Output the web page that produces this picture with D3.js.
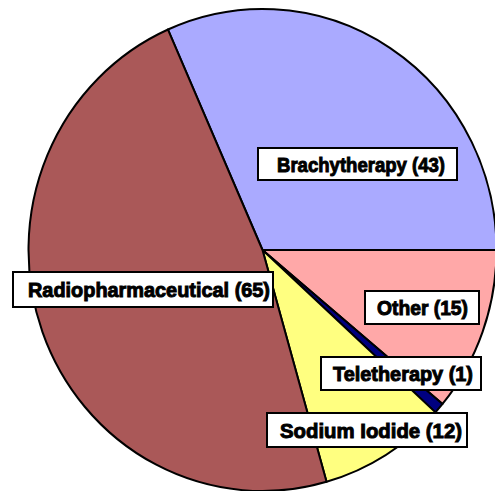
<!DOCTYPE html>
<html>
<head>
<meta charset="utf-8">
<script src="https://cdn.jsdelivr.net/npm/d3@7"></script>
<style>
  html, body { margin: 0; padding: 0; background: #fff; overflow: hidden; }
  svg { display: block; }
  .lbl text { font-family: "Liberation Sans", Arial, sans-serif; font-weight: bold; font-size: 21px; fill: #000; stroke: #000; stroke-width: 1px; }
</style>
</head>
<body>
<svg width="495" height="491"></svg>
<script>
// data
const categories = ["Brachytherapy", "Other", "Teletherapy", "Sodium Iodide", "Radiopharmaceutical"];
const counts = [43, 15, 1, 12, 65];
const colors = ["#aaaaff", "#ffa8a8", "#000080", "#ffff80", "#aa5858"];

// label boxes, placed by hand like in the original
const labelBoxes = [
  {x: 258, y: 148, w: 199, h: 32, tx: 277, tw: 168},
  {x: 365, y: 291, w: 114, h: 33, tx: 377, tw: 91},
  {x: 321, y: 357, w: 160, h: 33, tx: 333, tw: 140},
  {x: 267, y: 413, w: 200, h: 34, tx: 280, tw: 182},
  {x: 13,  y: 272, w: 260, h: 35, tx: 28,  tw: 242}
];

const svg = d3.select("svg");
const cx = 262.5, cy = 250, rx = 234, ry = 241;

let total = d3.sum(counts);
// first slice ends exactly at 3 o'clock
let start = Math.PI / 2 - counts[0] / total * 2 * Math.PI;

let pie = d3.pie().sort(null).startAngle(start).endAngle(start + 2 * Math.PI);
let arc = d3.arc().innerRadius(0).outerRadius(ry);

let g = svg.append("g")
  .attr("transform", "translate(" + cx + "," + cy + ") scale(" + (rx / ry) + ",1)");

g.selectAll("path")
  .data(pie(counts))
  .enter().append("path")
    .attr("d", arc)
    .attr("fill", function(d, i) { return colors[i]; })
    .attr("stroke", "#000")
    .attr("stroke-width", 2)
    .attr("vector-effect", "non-scaling-stroke")
    .attr("stroke-linejoin", "round");

// labels
let lbl = svg.selectAll("g.lbl")
  .data(categories)
  .enter().append("g")
    .attr("class", "lbl");

lbl.append("rect")
  .attr("x", function(d, i) { return labelBoxes[i].x; })
  .attr("y", function(d, i) { return labelBoxes[i].y; })
  .attr("width", function(d, i) { return labelBoxes[i].w; })
  .attr("height", function(d, i) { return labelBoxes[i].h; })
  .attr("fill", "#fff")
  .attr("stroke", "#000")
  .attr("stroke-width", 2);

lbl.append("text")
  .attr("x", function(d, i) { return labelBoxes[i].tx; })
  .attr("y", function(d, i) { return labelBoxes[i].y + labelBoxes[i].h / 2; })
  .attr("dy", "0.36em")
  .attr("textLength", function(d, i) { return labelBoxes[i].tw; })
  .attr("lengthAdjust", "spacingAndGlyphs")
  .text(function(d, i) { return d + " (" + counts[i] + ")"; });
</script>
</body>
</html>
